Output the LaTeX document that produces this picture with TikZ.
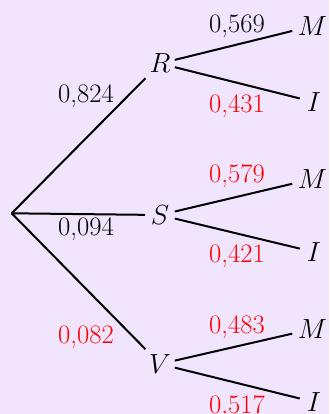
\documentclass[tikz,border=0pt]{standalone}
\definecolor{bgcol}{RGB}{240,229,252}
\definecolor{redlab}{RGB}{255,0,0}
\tikzset{
  every node/.style={font=\fontsize{20pt}{24pt}\selectfont},
  branch/.style={line width=1.5pt, black},
  evA/.style={rectangle, inner sep=0pt, text height=13.5pt, text depth=0pt, minimum width=21.75pt, minimum height=21.75pt},
  evM/.style={rectangle, inner sep=0pt, text height=13.5pt, text depth=0pt, minimum width=30pt, minimum height=15pt},
  evI/.style={rectangle, inner sep=0pt, text height=13.5pt, text depth=0pt, minimum width=21pt, minimum height=15pt},
  prob/.style={anchor=base, inner sep=0pt},
  probred/.style={prob, text=redlab}
}
\begin{document}
\begin{tikzpicture}[x=0.75pt, y=-0.75pt]
\fill[bgcol] (0,0) rectangle (329,414);
\useasboundingbox (0,0) rectangle (329,414);
\coordinate (O) at (11.7,213.3);
\node[evA] (R) at (160,63.5) {$R$};
\node[evA] (S) at (160,215) {$S$};
\node[evA] (V) at (160,364) {$V$};
\node[evM] (RM) at (312.5,26) {$M$};
\node[evI] (RI) at (314,102) {$I$};
\node[evM] (SM) at (312.5,179) {$M$};
\node[evI] (SI) at (314,252) {$I$};
\node[evM] (VM) at (312.5,329) {$M$};
\node[evI] (VI) at (314,402) {$I$};
\draw[branch] (O) -- (R);
\draw[branch] (O) -- (S);
\draw[branch] (O) -- (V);
\draw[branch] (R) -- (RM);
\draw[branch] (R) -- (RI);
\draw[branch] (S) -- (SM);
\draw[branch] (S) -- (SI);
\draw[branch] (V) -- (VM);
\draw[branch] (V) -- (VI);
\node[prob] (pR) at (86,102) {0,824};
\node[prob] (pS) at (86,235) {0,094};
\node[probred] (pV) at (86,343) {0,082};
\node[prob] (pRM) at (237,32) {0,569};
\node[probred] (pRI) at (237,112) {0,431};
\node[probred] (pSM) at (237,182) {0,579};
\node[probred] (pSI) at (237,262) {0,421};
\node[probred] (pVM) at (237,333) {0,483};
\node[probred] (pVI) at (237,413) {0,517};
\end{tikzpicture}
\end{document}
